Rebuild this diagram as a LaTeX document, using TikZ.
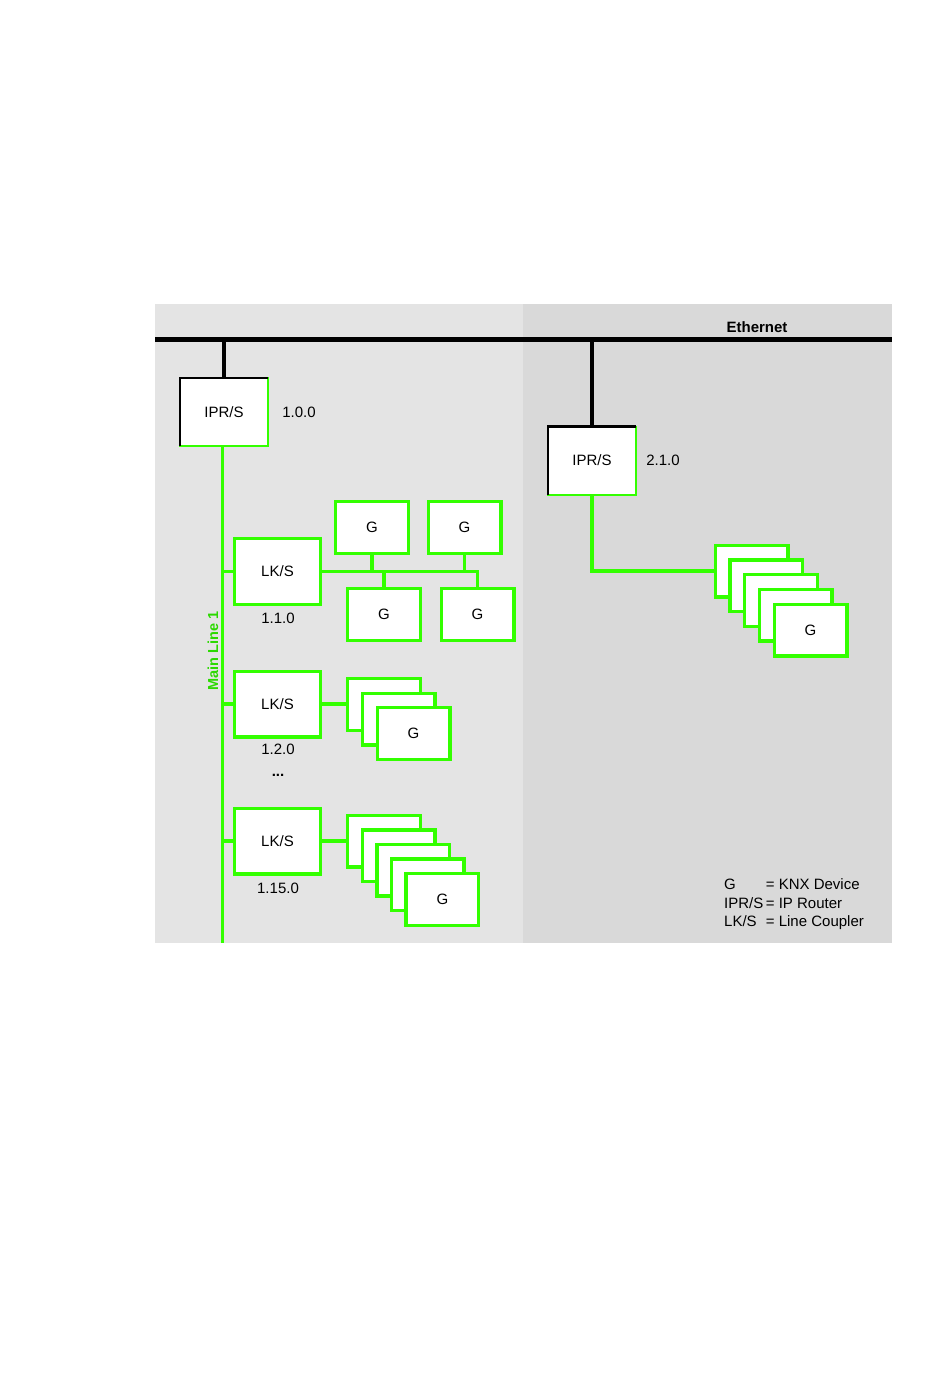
\documentclass[tikz,border=0pt]{standalone}
\usepackage{fontspec}
\setmainfont{Liberation Sans}
\usepackage{xcolor}
\usepackage{tikz}
\usetikzlibrary{positioning,calc}
\definecolor{knxgreen}{RGB}{51,255,0}
\definecolor{paneleft}{RGB}{228,228,228}
\definecolor{paneright}{RGB}{217,217,217}

\begin{document}
\begin{tikzpicture}[x=1pt,y=-1pt,font=\fontsize{15}{18.5}\selectfont,
 dev/.style={draw=knxgreen,fill=white,line width=3.4pt,minimum width=72.6pt,minimum height=51.6pt,inner sep=0pt,outer sep=0pt},
 lks/.style={dev,minimum width=85.6pt,minimum height=65.6pt},
 ipr/.style={draw=knxgreen,fill=white,line width=2pt,minimum width=88pt,minimum height=68pt,inner sep=0pt,outer sep=0pt},
 eth/.style={line width=4.5pt},
 drop/.style={line width=3.6pt},
 bus/.style={draw=knxgreen,line width=3.4pt}]
\useasboundingbox (0,0) rectangle (950,1378);
% two network areas
\fill[paneleft] (155,304) rectangle (523,942.5);
\fill[paneright] (523,304) rectangle (892,942.5);
\coordinate (ethW) at (155,339.5);
\coordinate (ethE) at (892,339.5);
\coordinate (mainS) at (222.5,942.5);
\draw[eth] (ethW)--(ethE);
\node[font=\fontsize{15}{18}\selectfont\bfseries] (ethlbl) at (757,327) {Ethernet};
% IP routers
\node[ipr] (ipr1) at (224,412) {IPR/S};
\node[ipr] (ipr2) at (592,460.5) {IPR/S};
\draw[line width=2.5pt] (ipr1.south west)--(ipr1.north west)--(ipr1.north east);
\draw[line width=2.5pt] (ipr2.south west)--(ipr2.north west)--(ipr2.north east);
\node (a100) at (299,412) {1.0.0};
\node (a210) at (663,460.5) {2.1.0};
\draw[drop] (ipr1.north)--(ipr1.north |- ethW);
\draw[drop] (ipr2.north)--(ipr2.north |- ethE);
% main line
\draw[bus] (mainS |- ipr1.south)--(mainS);
\node[rotate=90,text=knxgreen!85!black,font=\fontsize{14.5}{17}\selectfont\bfseries] (mainlbl) at (213,651) {Main Line 1};
% line couplers
\node[lks] (lks1) at (277.5,571.5) {LK/S};
\node[lks] (lks2) at (277.5,704) {LK/S};
\node[lks] (lks3) at (277.5,841) {LK/S};
\node (a110) at (278,618) {1.1.0};
\node (a120) at (278,749) {1.2.0};
\node (dots) at (278,775) {\bfseries ...};
\node (a1150) at (278,888) {1.15.0};
\draw[bus] (lks1.west)--(lks1.west -| mainS);
\draw[bus] (lks2.west)--(lks2.west -| mainS);
\draw[bus] (lks3.west)--(lks3.west -| mainS);
% devices on line 1.1
\node[dev] (g1) at (372,527.5) {G};
\node[dev] (g2) at (464.5,527.5) {G};
\node[dev] (g3) at (384,614.5) {G};
\node[dev] (g4) at (477.5,614.5) {G};
\draw[bus] (lks1.east) -| (g4.north);
\draw[bus] (g1.south)--(g1.south |- lks1.east);
\draw[bus] (g2.south)--(g2.south |- lks1.east);
\draw[bus] (g3.north)--(g3.north |- lks1.east);
% devices on line 1.2
\node[dev] (s2a) at (384,704.5) {};
\node[dev] (s2b) at (398.75,719) {};
\node[dev] (s2c) at (413.5,733.5) {G};
\draw[bus] (lks2.east)--(lks2.east -| s2a.west);
% devices on line 1.15
\node[dev] (s3a) at (384,841) {};
\node[dev] (s3b) at (398.6,855.6) {};
\node[dev] (s3c) at (413.2,870.2) {};
\node[dev] (s3d) at (427.8,884.8) {};
\node[dev] (s3e) at (442.4,899.4) {G};
\draw[bus] (lks3.east)--(lks3.east -| s3a.west);
% devices on line 2.1
\node[dev] (r1) at (751.5,571) {};
\node[dev] (r2) at (766.25,585.75) {};
\node[dev] (r3) at (781,600.5) {};
\node[dev] (r4) at (795.75,615.25) {};
\node[dev] (r5) at (810.5,630) {G};
\draw[bus] (ipr2.south) |- (r1.west);
% legend
\node[anchor=north west,inner sep=0pt] (legend) at (724,876.5) {%
 \begin{tabular}{@{}l@{\,}l@{}}
 G & = KNX Device\\
 IPR/S & = IP Router\\
 LK/S & = Line Coupler
 \end{tabular}};
\end{tikzpicture}
\end{document}
